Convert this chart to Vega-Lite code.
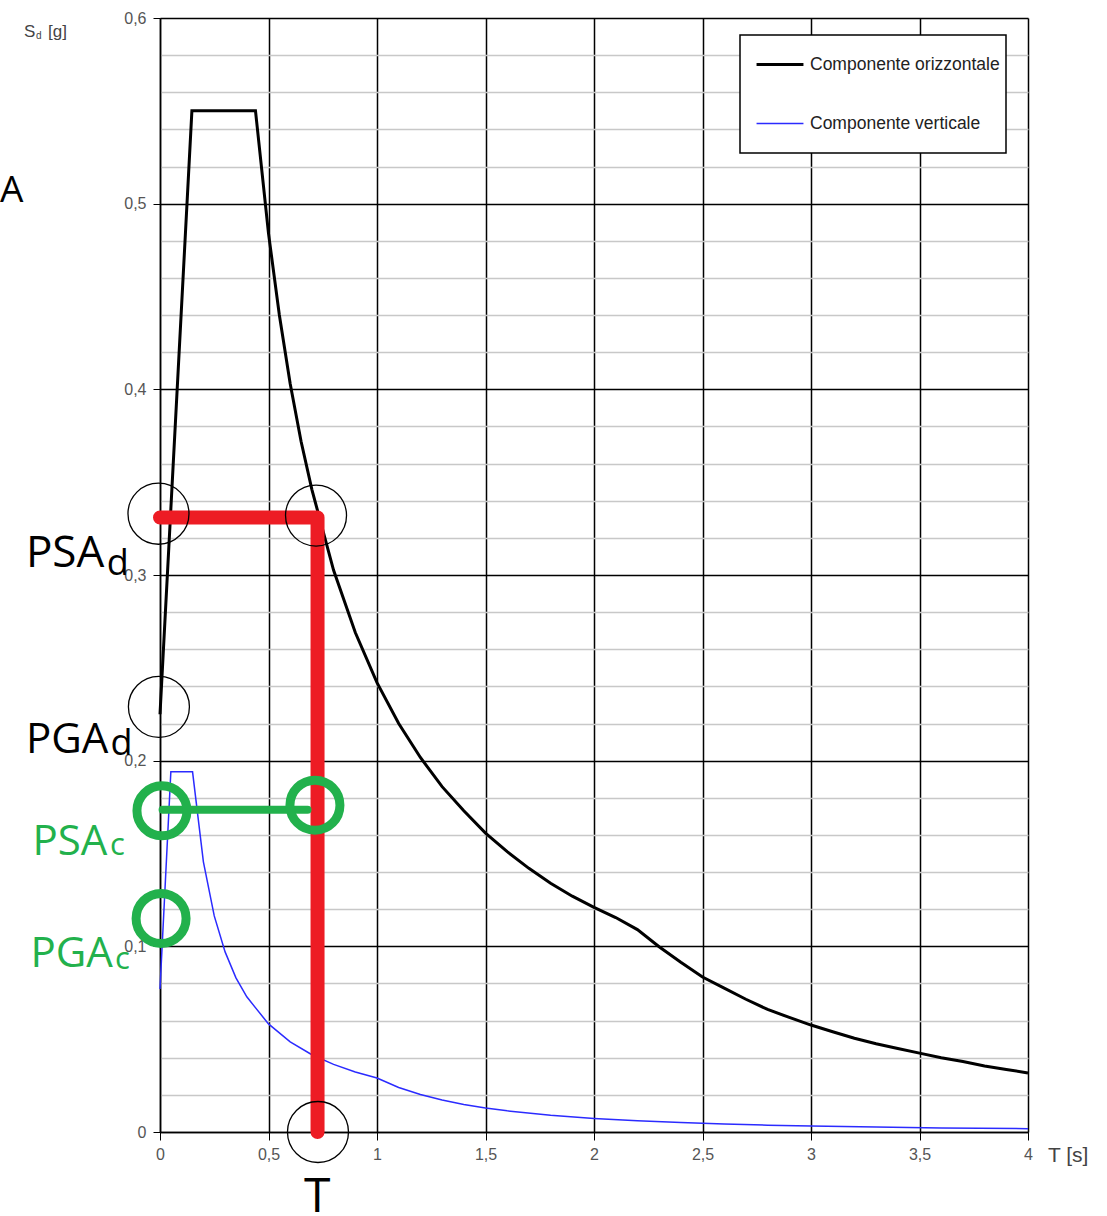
{
  "$schema": "https://vega.github.io/schema/vega-lite/v6.json",
  "width": 868,
  "height": 1114,
  "autosize": {"type": "none"},
  "padding": {"left": 160, "top": 18, "right": 79, "bottom": 84},
  "background": "white",
  "config": {
    "view": {"stroke": null},
    "font": "Liberation Sans",
    "legend": {"strokeWidth": 1.5}
  },
  "datasets": {
    "spectra": [
      {"comp": "Componente orizzontale", "T": 0, "Sd": 0.225},
      {"comp": "Componente orizzontale", "T": 0.147, "Sd": 0.55},
      {"comp": "Componente orizzontale", "T": 0.44, "Sd": 0.55},
      {"comp": "Componente orizzontale", "T": 0.5, "Sd": 0.484},
      {"comp": "Componente orizzontale", "T": 0.55, "Sd": 0.44},
      {"comp": "Componente orizzontale", "T": 0.6, "Sd": 0.403},
      {"comp": "Componente orizzontale", "T": 0.65, "Sd": 0.372},
      {"comp": "Componente orizzontale", "T": 0.7, "Sd": 0.346},
      {"comp": "Componente orizzontale", "T": 0.8, "Sd": 0.3025},
      {"comp": "Componente orizzontale", "T": 0.9, "Sd": 0.269},
      {"comp": "Componente orizzontale", "T": 1.0, "Sd": 0.242},
      {"comp": "Componente orizzontale", "T": 1.1, "Sd": 0.22},
      {"comp": "Componente orizzontale", "T": 1.2, "Sd": 0.2017},
      {"comp": "Componente orizzontale", "T": 1.3, "Sd": 0.186},
      {"comp": "Componente orizzontale", "T": 1.4, "Sd": 0.173},
      {"comp": "Componente orizzontale", "T": 1.5, "Sd": 0.161},
      {"comp": "Componente orizzontale", "T": 1.6, "Sd": 0.151},
      {"comp": "Componente orizzontale", "T": 1.7, "Sd": 0.142},
      {"comp": "Componente orizzontale", "T": 1.8, "Sd": 0.134},
      {"comp": "Componente orizzontale", "T": 1.9, "Sd": 0.127},
      {"comp": "Componente orizzontale", "T": 2.0, "Sd": 0.121},
      {"comp": "Componente orizzontale", "T": 2.1, "Sd": 0.1155},
      {"comp": "Componente orizzontale", "T": 2.2, "Sd": 0.109},
      {"comp": "Componente orizzontale", "T": 2.3, "Sd": 0.0998},
      {"comp": "Componente orizzontale", "T": 2.4, "Sd": 0.0914},
      {"comp": "Componente orizzontale", "T": 2.5, "Sd": 0.0835},
      {"comp": "Componente orizzontale", "T": 2.6, "Sd": 0.0775},
      {"comp": "Componente orizzontale", "T": 2.7, "Sd": 0.0715},
      {"comp": "Componente orizzontale", "T": 2.8, "Sd": 0.066},
      {"comp": "Componente orizzontale", "T": 2.9, "Sd": 0.0617},
      {"comp": "Componente orizzontale", "T": 3.0, "Sd": 0.0576},
      {"comp": "Componente orizzontale", "T": 3.1, "Sd": 0.054},
      {"comp": "Componente orizzontale", "T": 3.2, "Sd": 0.0505},
      {"comp": "Componente orizzontale", "T": 3.3, "Sd": 0.0475},
      {"comp": "Componente orizzontale", "T": 3.4, "Sd": 0.045},
      {"comp": "Componente orizzontale", "T": 3.5, "Sd": 0.0425},
      {"comp": "Componente orizzontale", "T": 3.6, "Sd": 0.04},
      {"comp": "Componente orizzontale", "T": 3.7, "Sd": 0.038},
      {"comp": "Componente orizzontale", "T": 3.8, "Sd": 0.0356},
      {"comp": "Componente orizzontale", "T": 3.9, "Sd": 0.0337},
      {"comp": "Componente orizzontale", "T": 4.0, "Sd": 0.0318},
      {"comp": "Componente verticale", "T": 0, "Sd": 0.077},
      {"comp": "Componente verticale", "T": 0.05, "Sd": 0.194},
      {"comp": "Componente verticale", "T": 0.15, "Sd": 0.194},
      {"comp": "Componente verticale", "T": 0.2, "Sd": 0.1455},
      {"comp": "Componente verticale", "T": 0.25, "Sd": 0.1164},
      {"comp": "Componente verticale", "T": 0.3, "Sd": 0.097},
      {"comp": "Componente verticale", "T": 0.35, "Sd": 0.083},
      {"comp": "Componente verticale", "T": 0.4, "Sd": 0.0728},
      {"comp": "Componente verticale", "T": 0.5, "Sd": 0.0582},
      {"comp": "Componente verticale", "T": 0.6, "Sd": 0.0485},
      {"comp": "Componente verticale", "T": 0.7, "Sd": 0.0416},
      {"comp": "Componente verticale", "T": 0.8, "Sd": 0.0364},
      {"comp": "Componente verticale", "T": 0.9, "Sd": 0.0323},
      {"comp": "Componente verticale", "T": 1.0, "Sd": 0.0291},
      {"comp": "Componente verticale", "T": 1.1, "Sd": 0.024},
      {"comp": "Componente verticale", "T": 1.2, "Sd": 0.0202},
      {"comp": "Componente verticale", "T": 1.3, "Sd": 0.0172},
      {"comp": "Componente verticale", "T": 1.4, "Sd": 0.0148},
      {"comp": "Componente verticale", "T": 1.5, "Sd": 0.0129},
      {"comp": "Componente verticale", "T": 1.6, "Sd": 0.0114},
      {"comp": "Componente verticale", "T": 1.8, "Sd": 0.009},
      {"comp": "Componente verticale", "T": 2.0, "Sd": 0.0073},
      {"comp": "Componente verticale", "T": 2.2, "Sd": 0.006},
      {"comp": "Componente verticale", "T": 2.4, "Sd": 0.0051},
      {"comp": "Componente verticale", "T": 2.6, "Sd": 0.0043},
      {"comp": "Componente verticale", "T": 2.8, "Sd": 0.0037},
      {"comp": "Componente verticale", "T": 3.0, "Sd": 0.0032},
      {"comp": "Componente verticale", "T": 3.3, "Sd": 0.0027},
      {"comp": "Componente verticale", "T": 3.6, "Sd": 0.0022},
      {"comp": "Componente verticale", "T": 4.0, "Sd": 0.0018}
    ],
    "red": [
      {"o": 1, "T": 0.0, "Sd": 0.331},
      {"o": 2, "T": 0.726, "Sd": 0.331},
      {"o": 3, "T": 0.726, "Sd": 0.0}
    ],
    "green": [
      {"o": 1, "T": 0.012, "Sd": 0.1735},
      {"o": 2, "T": 0.68, "Sd": 0.1735}
    ],
    "bcirc": [
      {"T": -0.007, "Sd": 0.333},
      {"T": 0.719, "Sd": 0.332},
      {"T": -0.005, "Sd": 0.229},
      {"T": 0.728, "Sd": 0.0}
    ],
    "gcirc": [
      {"T": 0.009, "Sd": 0.173},
      {"T": 0.714, "Sd": 0.176},
      {"T": 0.005, "Sd": 0.115}
    ],
    "ann": [
      {"label": "PSA", "kind": "psa_d", "T": -0.618, "Sd": 0.3043},
      {"label": "d", "kind": "sub_d", "T": -0.245, "Sd": 0.3},
      {"label": "PGA", "kind": "pga_d", "T": -0.618, "Sd": 0.2041},
      {"label": "d", "kind": "sub_d", "T": -0.228, "Sd": 0.203},
      {"label": "PSA", "kind": "big_c", "T": -0.588, "Sd": 0.1492},
      {"label": "c", "kind": "sub_c", "T": -0.23, "Sd": 0.1492},
      {"label": "PGA", "kind": "big_c", "T": -0.597, "Sd": 0.0889},
      {"label": "c", "kind": "sub_c", "T": -0.207, "Sd": 0.0878},
      {"label": "A", "kind": "A", "T": -0.737, "Sd": 0.5009},
      {"label": "T", "kind": "T", "T": 0.664, "Sd": -0.0431},
      {"label": "S", "kind": "ax", "T": -0.627, "Sd": 0.5898},
      {"label": "d", "kind": "axsub", "T": -0.571, "Sd": 0.5887},
      {"label": "[g]", "kind": "ax", "T": -0.516, "Sd": 0.5898},
      {"label": "T  [s]", "kind": "unit", "T": 4.092, "Sd": -0.0162}
    ]
  },
  "layer": [
    {
      "data": {"name": "spectra"},
      "mark": {"type": "line"},
      "encoding": {
        "x": {
          "field": "T",
          "type": "quantitative",
          "scale": {"domain": [0, 4], "nice": false},
          "axis": {
            "title": null,
            "values": [0, 0.5, 1, 1.5, 2, 2.5, 3, 3.5, 4],
            "tickCount": 40,
            "labelExpr": "replace(format(datum.value, '~g'), '.', ',')",
            "grid": true,
            "gridColor": "black",
            "gridWidth": 1.5,
            "domainColor": "black",
            "domainWidth": 1.5,
            "tickColor": "black",
            "tickSize": 8,
            "tickWidth": 1,
            "labelColor": "#555555",
            "labelFontSize": 16,
            "labelPadding": 6,
            "labelFont": "Liberation Sans",
            "labelFlush": false,
            "labelOverlap": false
          }
        },
        "y": {
          "field": "Sd",
          "type": "quantitative",
          "scale": {"domain": [0, 0.6], "nice": false},
          "axis": {
            "title": null,
            "values": [0, 0.02, 0.04, 0.06, 0.08, 0.1, 0.12, 0.14, 0.16, 0.18, 0.2, 0.22, 0.24, 0.26, 0.28, 0.3, 0.32, 0.34, 0.36, 0.38, 0.4, 0.42, 0.44, 0.46, 0.48, 0.5, 0.52, 0.54, 0.56, 0.58, 0.6],
            "tickCount": 100,
            "labelExpr": "abs(datum.value*10 - round(datum.value*10)) < 0.001 ? replace(format(datum.value, '~g'), '.', ',') : ''",
            "grid": true,
            "gridColor": {"condition": {"test": "abs(datum.value*10 - round(datum.value*10)) < 0.001", "value": "black"}, "value": "#c8c8c8"},
            "gridWidth": 1.5,
            "domainColor": "black",
            "domainWidth": 1.5,
            "tickColor": "black",
            "tickOpacity": {"condition": {"test": "abs(datum.value*10 - round(datum.value*10)) < 0.001", "value": 1}, "value": 0},
            "tickSize": 7,
            "tickWidth": 1,
            "labelColor": "#555555",
            "labelFontSize": 16,
            "labelPadding": 7,
            "labelFont": "Liberation Sans",
            "labelFlush": false,
            "labelOverlap": false
          }
        },
        "color": {
          "field": "comp",
          "type": "nominal",
          "scale": {"domain": ["Componente orizzontale", "Componente verticale"], "range": ["black", "#2b2bff"]},
          "legend": {
            "title": null,
            "orient": "none",
            "legendX": 580,
            "legendY": 17,
            "strokeColor": "black",
            "fillColor": "white",
            "padding": 6,
            "clipHeight": 47,
            "symbolType": "stroke",
            "symbolSize": 2200,
            "symbolOffset": 9,
            "labelOffset": 5,
            "labelFontSize": 17.5,
            "labelFont": "Liberation Sans",
            "labelColor": "#222222",
            "rowPadding": 12,
            "labelLimit": 400
          }
        },
        "strokeWidth": {
          "field": "comp",
          "type": "nominal",
          "scale": {"domain": ["Componente orizzontale", "Componente verticale"], "range": [3, 1.5]},
          "legend": {
            "title": null,
            "orient": "none",
            "legendX": 580,
            "legendY": 17,
            "strokeColor": "black",
            "fillColor": "white",
            "padding": 6,
            "clipHeight": 47,
            "symbolType": "stroke",
            "symbolSize": 2200,
            "symbolOffset": 9,
            "labelOffset": 5,
            "labelFontSize": 17.5,
            "labelFont": "Liberation Sans",
            "labelColor": "#222222",
            "rowPadding": 12,
            "labelLimit": 400
          }
        }
      }
    },
    {
      "data": {"name": "red"},
      "mark": {"type": "line", "color": "#ed1c24", "strokeWidth": 14, "strokeCap": "round", "strokeJoin": "round"},
      "encoding": {
        "x": {"field": "T", "type": "quantitative"},
        "y": {"field": "Sd", "type": "quantitative"},
        "order": {"field": "o"}
      }
    },
    {
      "data": {"name": "bcirc"},
      "mark": {"type": "point", "shape": "circle", "filled": false, "color": "black", "strokeWidth": 1.3, "size": 3721, "opacity": 1},
      "encoding": {
        "x": {"field": "T", "type": "quantitative"},
        "y": {"field": "Sd", "type": "quantitative"}
      }
    },
    {
      "data": {"name": "green"},
      "mark": {"type": "line", "color": "#22b14c", "strokeWidth": 8, "strokeCap": "round"},
      "encoding": {
        "x": {"field": "T", "type": "quantitative"},
        "y": {"field": "Sd", "type": "quantitative"},
        "order": {"field": "o"}
      }
    },
    {
      "data": {"name": "gcirc"},
      "mark": {"type": "point", "shape": "circle", "filled": false, "color": "#22b14c", "strokeWidth": 9, "size": 2500, "opacity": 1},
      "encoding": {
        "x": {"field": "T", "type": "quantitative"},
        "y": {"field": "Sd", "type": "quantitative"}
      }
    },
    {
      "data": {"name": "ann"},
      "transform": [{"filter": "datum.kind == 'psa_d'"}],
      "mark": {"type": "text", "font": "Open Sans", "align": "left", "baseline": "alphabetic", "fontSize": 44, "color": "black"},
      "encoding": {"x": {"field": "T", "type": "quantitative"}, "y": {"field": "Sd", "type": "quantitative"}, "text": {"field": "label"}}
    },
    {
      "data": {"name": "ann"},
      "transform": [{"filter": "datum.kind == 'pga_d'"}],
      "mark": {"type": "text", "font": "Open Sans", "align": "left", "baseline": "alphabetic", "fontSize": 42, "color": "black"},
      "encoding": {"x": {"field": "T", "type": "quantitative"}, "y": {"field": "Sd", "type": "quantitative"}, "text": {"field": "label"}}
    },
    {
      "data": {"name": "ann"},
      "transform": [{"filter": "datum.kind == 'sub_d'"}],
      "mark": {"type": "text", "font": "Open Sans", "align": "left", "baseline": "alphabetic", "fontSize": 36, "color": "black"},
      "encoding": {"x": {"field": "T", "type": "quantitative"}, "y": {"field": "Sd", "type": "quantitative"}, "text": {"field": "label"}}
    },
    {
      "data": {"name": "ann"},
      "transform": [{"filter": "datum.kind == 'big_c'"}],
      "mark": {"type": "text", "font": "Open Sans", "align": "left", "baseline": "alphabetic", "fontSize": 42, "color": "#22b14c"},
      "encoding": {"x": {"field": "T", "type": "quantitative"}, "y": {"field": "Sd", "type": "quantitative"}, "text": {"field": "label"}}
    },
    {
      "data": {"name": "ann"},
      "transform": [{"filter": "datum.kind == 'sub_c'"}],
      "mark": {"type": "text", "font": "Open Sans", "align": "left", "baseline": "alphabetic", "fontSize": 31, "color": "#22b14c"},
      "encoding": {"x": {"field": "T", "type": "quantitative"}, "y": {"field": "Sd", "type": "quantitative"}, "text": {"field": "label"}}
    },
    {
      "data": {"name": "ann"},
      "transform": [{"filter": "datum.kind == 'A'"}],
      "mark": {"type": "text", "font": "Open Sans", "align": "left", "baseline": "alphabetic", "fontSize": 37, "color": "black"},
      "encoding": {"x": {"field": "T", "type": "quantitative"}, "y": {"field": "Sd", "type": "quantitative"}, "text": {"field": "label"}}
    },
    {
      "data": {"name": "ann"},
      "transform": [{"filter": "datum.kind == 'T'"}],
      "mark": {"type": "text", "font": "Open Sans", "align": "left", "baseline": "alphabetic", "fontSize": 48, "color": "black"},
      "encoding": {"x": {"field": "T", "type": "quantitative"}, "y": {"field": "Sd", "type": "quantitative"}, "text": {"field": "label"}}
    },
    {
      "data": {"name": "ann"},
      "transform": [{"filter": "datum.kind == 'ax'"}],
      "mark": {"type": "text", "font": "Liberation Sans", "align": "left", "baseline": "alphabetic", "fontSize": 17, "color": "#444444"},
      "encoding": {"x": {"field": "T", "type": "quantitative"}, "y": {"field": "Sd", "type": "quantitative"}, "text": {"field": "label"}}
    },
    {
      "data": {"name": "ann"},
      "transform": [{"filter": "datum.kind == 'axsub'"}],
      "mark": {"type": "text", "font": "Liberation Sans", "align": "left", "baseline": "alphabetic", "fontSize": 10, "color": "#444444"},
      "encoding": {"x": {"field": "T", "type": "quantitative"}, "y": {"field": "Sd", "type": "quantitative"}, "text": {"field": "label"}}
    },
    {
      "data": {"name": "ann"},
      "transform": [{"filter": "datum.kind == 'unit'"}],
      "mark": {"type": "text", "font": "Liberation Sans", "align": "left", "baseline": "alphabetic", "fontSize": 21, "color": "#444444"},
      "encoding": {"x": {"field": "T", "type": "quantitative"}, "y": {"field": "Sd", "type": "quantitative"}, "text": {"field": "label"}}
    }
  ]
}
